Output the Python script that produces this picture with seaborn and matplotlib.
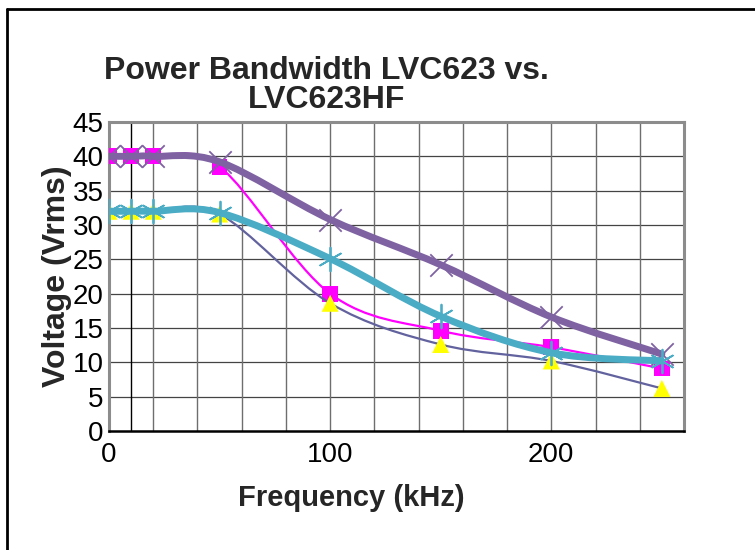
import numpy as np
import pandas as pd
import matplotlib
matplotlib.use("Agg")
import matplotlib.pyplot as plt
from matplotlib.path import Path
from matplotlib.patches import PathPatch
import seaborn as sns

# Данные
freq = [0, 10, 20, 50, 100, 150, 200, 250]
lvc623_a = [40, 40, 40, 38.5, 20, 14.6, 12.2, 9.1]      # magenta, квадраты
lvc623_b = [32, 32, 32, 31.6, 18.6, 12.6, 10.2, 6.2]    # жёлтые треугольники
lvc623hf_a = [40, 40, 40, 39.2, 30.8, 24.2, 16.6, 11.2]  # фиолетовый, x
lvc623hf_b = [32, 32, 32, 31.8, 25.1, 16.7, 11.4, 10.2]  # голубой, *

x_ticks = [0, 100, 200]
y_ticks = list(range(0, 50, 5))

sns.set_theme(style="white")
plt.rcParams['font.family'] = ['Liberation Sans', 'DejaVu Sans']


def smooth_path(xs, ys):
    # сглаженная линия как в Excel (кривые Безье через точки)
    pts = np.column_stack([xs, ys]).astype(float)
    verts = [pts[0]]
    codes = [Path.MOVETO]
    n = len(pts)
    for i in range(n - 1):
        p0 = pts[max(i - 1, 0)]
        p1 = pts[i]
        p2 = pts[i + 1]
        p3 = pts[min(i + 2, n - 1)]
        c1 = p1 + (p2 - p0) / 6.0
        c2 = p2 - (p3 - p1) / 6.0
        verts += [c1, c2, p2]
        codes += [Path.CURVE4] * 3
    return Path(verts, codes)


fig = plt.figure(figsize=(7.55, 5.5), dpi=100)
ax = fig.add_axes([109 / 755, 119 / 550, 575 / 755, 309 / 550])

series = [
    (lvc623_a, "#FF00FF", 1.6, "s", "#FF00FF", 130, None),
    (lvc623_b, "#62629E", 1.6, "^", "#FFFF00", 150, None),
    (lvc623hf_a, "#7F62A2", 5.0, "x", "#7F62A2", 260, 1.3),
    (lvc623hf_b, "#4BACC6", 5.0, (6, 2, 0), "#4BACC6", 290, 1.3),
]

for i, (vals, lcol, lw, mk, mcol, ms, mlw) in enumerate(series):
    patch = PathPatch(smooth_path(freq, vals), facecolor="none", edgecolor=lcol,
                      lw=lw, zorder=3 + i * 2, capstyle="round", joinstyle="round")
    ax.add_patch(patch)
    df = pd.DataFrame({"f": freq, "v": vals})
    if mk in ("x", (6, 2, 0)):
        sns.scatterplot(data=df, x="f", y="v", marker=mk, s=ms, color=mcol,
                        linewidth=mlw, ax=ax, zorder=4 + i * 2)
    else:
        sns.scatterplot(data=df, x="f", y="v", marker=mk, s=ms, color=mcol,
                        edgecolor="none", linewidth=0, ax=ax, zorder=4 + i * 2)

ax.set_xlim(0, 260)
ax.set_ylim(0, 45)

# сетка
for yv in y_ticks[1:]:
    ax.axhline(yv, color="#444444", lw=0.9, zorder=1)
for xv in range(20, 260, 20):
    ax.axvline(xv, color="#6E6E6E", lw=1.0, zorder=1)
ax.axvline(10, color="black", lw=1.0, zorder=1)

ax.set_xticks(x_ticks)
ax.set_yticks(y_ticks)
ax.tick_params(axis="x", length=7, width=1, color="#888888", direction="out",
               pad=1, labelsize=20)
ax.tick_params(axis="y", length=0, pad=4, labelsize=20)
for lab in ax.get_xticklabels() + ax.get_yticklabels():
    lab.set_color("black")

for side in ["top", "right", "left"]:
    ax.spines[side].set_color("#8C8C8C")
    ax.spines[side].set_linewidth(2.2)
ax.spines["bottom"].set_color("black")
ax.spines["bottom"].set_linewidth(1.8)
ax.spines["bottom"].set_zorder(10)

ax.set_xlabel("Frequency (kHz)", fontsize=21, fontweight="bold")
ax.xaxis.set_label_coords((351 - 109) / 575, -0.17)
ax.set_ylabel("Voltage (Vrms)", fontsize=23, fontweight="bold", labelpad=0)

fig.text(0.433, 1 - 56 / 550, "Power Bandwidth LVC623 vs.\nLVC623HF",
         ha="center", va="top", fontsize=23, fontweight="bold", linespacing=0.95)

# рамка области диаграммы
fig.add_artist(plt.Line2D([7 / 755, 1], [1 - 9 / 550, 1 - 9 / 550],
                          transform=fig.transFigure, color="black", lw=2))
fig.add_artist(plt.Line2D([7 / 755, 7 / 755], [0, 1 - 9 / 550],
                          transform=fig.transFigure, color="black", lw=2))

fig.savefig("out.png", dpi=100)
